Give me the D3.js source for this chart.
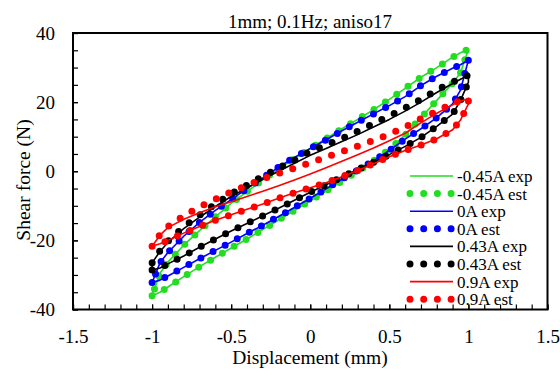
<!DOCTYPE html>
<html><head><meta charset="utf-8">
<script src="https://cdn.jsdelivr.net/npm/d3@7/dist/d3.min.js"></script>
<style>
body{margin:0;background:#fff}
svg{display:block}
</style>
</head><body>
<svg id="chart" width="560" height="372"></svg>
<script>
// ---- data ----
const titleText = "1mm; 0.1Hz; aniso17";
const xLabel = "Displacement (mm)";
const yLabel = "Shear force (N)";
const xTicks = [-1.5, -1, -0.5, 0, 0.5, 1, 1.5];
const yTicks = [-40, -20, 0, 20, 40];
const seriesNames = ["-0.45A exp", "-0.45A est", "0A exp", "0A est", "0.43A exp", "0.43A est", "0.9A exp", "0.9A est"];
const seriesColors = ["#22dd22", "#22dd22", "#0000ff", "#0000ff", "#000000", "#000000", "#ff0000", "#ff0000"];

// displacement path around the loop: loading branch, unloading branch, close
const displacement = [-1,-0.95,-0.9,-0.8,-0.7,-0.6,-0.5,-0.4,-0.3,-0.2,-0.1,0,0.1,0.2,0.3,0.4,0.5,0.6,0.7,0.8,0.9,0.95,1,
                      1,0.95,0.9,0.8,0.7,0.6,0.5,0.4,0.3,0.2,0.1,0,-0.1,-0.2,-0.3,-0.4,-0.5,-0.6,-0.7,-0.8,-0.9,-0.95,-1,
                      -1];

const forceExpN045 = [-36,-35,-33.5,-30.5,-27.6,-24.9,-22.2,-19.6,-16.9,-14.1,-11.3,-8.5,-5.7,-2.9,0,3.0,6.3,10.5,15.5,20.5,25.5,28.5,35.3,
                      35.3,34.3,33.0,30.0,27.2,24.0,20.8,17.8,15.0,12.3,9.4,6.6,3.7,0.7,-2.5,-5.9,-9.3,-13.2,-17.2,-21.4,-26.3,-29.5,-36,
                      -36];
const forceEstN045 = [-36,-35,-33.5,-30.5,-27.6,-24.9,-22.2,-19.6,-16.9,-14.1,-11.3,-8.5,-5.7,-2.9,0,3.0,6.3,10.5,15.5,20.5,25.5,28.5,35.3,
                      35.3,34.3,33.0,30.0,27.2,24.0,20.8,17.8,15.0,12.3,9.4,6.6,3.7,0.7,-2.5,-5.9,-9.3,-13.2,-17.2,-21.4,-26.3,-29.5,-36,
                      -36];
const forceExp0 = [-32.2,-31.5,-30.3,-27.8,-25.3,-22.9,-20.5,-18.0,-15.6,-13.1,-10.5,-7.8,-5.1,-2.3,0.3,3.0,6.0,9.3,12.3,15.5,19.5,23.5,32.2,
                   32.2,30.8,29.8,27.5,24.8,21.6,19.0,16.6,14.2,11.7,9.1,6.6,4.0,1.2,-1.9,-5.0,-8.2,-11.3,-14.8,-18.8,-23.5,-26.5,-32.2,
                   -32.2];
const forceEst0 = [-32.2,-31.5,-30.3,-27.8,-25.3,-22.9,-20.5,-18.0,-15.6,-13.1,-10.5,-7.8,-5.1,-2.3,0.3,3.0,6.0,9.3,12.3,15.5,19.5,23.5,32.2,
                   32.2,30.8,29.8,27.5,24.8,21.6,19.0,16.6,14.2,11.7,9.1,6.6,4.0,1.2,-1.9,-5.0,-8.2,-11.3,-14.8,-18.8,-23.5,-26.5,-32.2,
                   -32.2];
const forceExp043 = [-28.6,-28.0,-26.8,-24.5,-22.0,-19.6,-17.3,-15.1,-12.9,-10.7,-8.4,-6.1,-3.9,-1.7,0.5,2.6,4.8,7.2,9.8,13.0,16.5,20.5,25.8,
                     27.8,26.6,25.4,22.8,20.0,17.4,15.0,12.8,10.6,8.6,6.6,4.6,2.3,0.0,-2.3,-4.8,-7.3,-10.2,-13.3,-16.6,-20.6,-23.2,-26.5,
                     -28.6];
const forceEst043 = [-28.6,-28.0,-26.8,-24.5,-22.0,-19.6,-17.3,-15.1,-12.9,-10.7,-8.4,-6.1,-3.9,-1.7,0.5,2.6,4.8,7.2,9.8,13.0,16.5,20.5,25.8,
                     27.8,26.8,25.8,23.5,20.8,18.3,16.0,13.8,11.6,9.5,7.6,5.7,3.2,0.9,-1.4,-4.0,-6.5,-9.5,-12.7,-16.1,-20.3,-23.0,-26.5,
                     -28.6];
const forceExp09 = [-21.7,-21.0,-20.0,-17.9,-16.0,-14.2,-12.6,-11.0,-9.5,-7.8,-6.2,-4.8,-3.3,-1.6,0.2,2.2,4.2,6.0,7.6,9.4,12.0,14.8,19.5,
                    21.0,20.3,19.2,16.8,14.0,11.0,8.8,6.7,4.8,2.9,1.0,-0.8,-2.5,-4.2,-5.8,-7.3,-8.8,-10.3,-12.0,-13.9,-16.3,-18.5,-21.7,
                    -21.7];
const forceEst09 = [-21.7,-21.0,-20.0,-17.9,-16.0,-14.2,-12.6,-11.0,-9.5,-7.8,-6.2,-4.8,-3.3,-1.6,0.2,2.2,4.2,6.0,7.6,9.4,12.0,14.8,19.5,
                    21.0,20.5,19.5,17.4,15.2,12.8,10.7,8.9,7.3,5.7,4.1,2.5,0.9,-0.6,-2.2,-4.1,-6.0,-8.1,-10.3,-12.9,-16.0,-18.3,-21.7,
                    -21.7];

const seriesForces = [forceExpN045, forceEstN045, forceExp0, forceEst0, forceExp043, forceEst043, forceExp09, forceEst09];

// ---- layout ----
const FONT = "'Liberation Serif', 'Times New Roman', Tinos, serif";
const L = 73, R = 547.5, T = 33, B = 309.5;
const svg = d3.select("#chart");
const x = d3.scaleLinear().domain([-1.5, 1.5]).range([L, R]);
const y = d3.scaleLinear().domain([-40, 40]).range([B, T]);

const fmt = d => String(d);

// minor ticks
const xMinor = d3.range(-15, 16).map(i => i / 10);
const yMinor = d3.range(-8, 9).map(i => i * 5);

svg.append("g").attr("transform", `translate(0,${B})`)
  .call(d3.axisBottom(x).tickValues(xMinor).tickFormat("").tickSizeInner(-5).tickSizeOuter(0))
  .call(g => g.select(".domain").remove())
  .selectAll("line").attr("stroke-width", 1.2);
svg.append("g").attr("transform", `translate(${L},0)`)
  .call(d3.axisLeft(y).tickValues(yMinor).tickFormat("").tickSizeInner(-5).tickSizeOuter(0))
  .call(g => g.select(".domain").remove())
  .selectAll("line").attr("stroke-width", 1.2);

// major tick labels
const gx = svg.append("g").attr("transform", `translate(0,${B})`)
  .call(d3.axisBottom(x).tickValues(xTicks).tickFormat(fmt).tickSizeInner(-5).tickSizeOuter(0).tickPadding(20));
gx.select(".domain").remove();
gx.attr("font-family", null).attr("font-size", null);
gx.selectAll("text").style("font-size", "19px").style("font-family", FONT).attr("fill", "#000");
gx.selectAll("line").attr("stroke-width", 1.2);

const gy = svg.append("g").attr("transform", `translate(${L},0)`)
  .call(d3.axisLeft(y).tickValues(yTicks).tickFormat(fmt).tickSizeInner(-5).tickSizeOuter(0).tickPadding(18));
gy.select(".domain").remove();
gy.attr("font-family", null).attr("font-size", null);
gy.selectAll("text").style("font-size", "19px").style("font-family", FONT).attr("fill", "#000");
gy.selectAll("line").attr("stroke-width", 1.2);

// frame
svg.append("rect").attr("x", L).attr("y", T).attr("width", R - L).attr("height", B - T)
  .attr("fill", "none").attr("stroke", "#000").attr("stroke-width", 2);

// series
const line = d3.line().x(d => x(d[0])).y(d => y(d[1]));
seriesForces.forEach((f, i) => {
  const pts = displacement.map((d, k) => [d, f[k]]);
  const isEst = i % 2 === 1;
  const p = svg.append("path").datum(pts).attr("d", line)
    .attr("fill", "none").attr("stroke", seriesColors[i]);
  if (isEst) {
    p.attr("stroke-width", 7).attr("stroke-linecap", "round").attr("stroke-dasharray", "0 13.7");
  } else {
    p.attr("stroke-width", 1.6).attr("stroke-linejoin", "round");
  }
});

// title and axis titles
svg.append("text").attr("x", 310).attr("y", 27.5).attr("text-anchor", "middle")
  .style("font-family", FONT).style("font-size", "19px").text(titleText);
svg.append("text").attr("x", 310).attr("y", 364).attr("text-anchor", "middle")
  .style("font-family", FONT).style("font-size", "19.5px").text(xLabel);
svg.append("text").attr("transform", "translate(30,180) rotate(-90)").attr("text-anchor", "middle")
  .style("font-family", FONT).style("font-size", "19.5px").text(yLabel);

// legend
const legend = svg.append("g");
seriesNames.forEach((name, i) => {
  const cy = 176 + i * 17.6;
  const isEst = i % 2 === 1;
  const lp = legend.append("path").attr("d", isEst ? `M410,${cy}L451.2,${cy}` : `M410,${cy}L453,${cy}`)
    .attr("stroke", seriesColors[i]).attr("fill", "none");
  if (isEst) lp.attr("stroke-width", 7).attr("stroke-linecap", "round").attr("stroke-dasharray", "0 13.7");
  else lp.attr("stroke-width", 1.6);
  legend.append("text").attr("x", 457).attr("y", cy).attr("dy", "0.35em")
    .style("font-family", FONT).style("font-size", "17px").text(name);
});
</script>
</body></html>
